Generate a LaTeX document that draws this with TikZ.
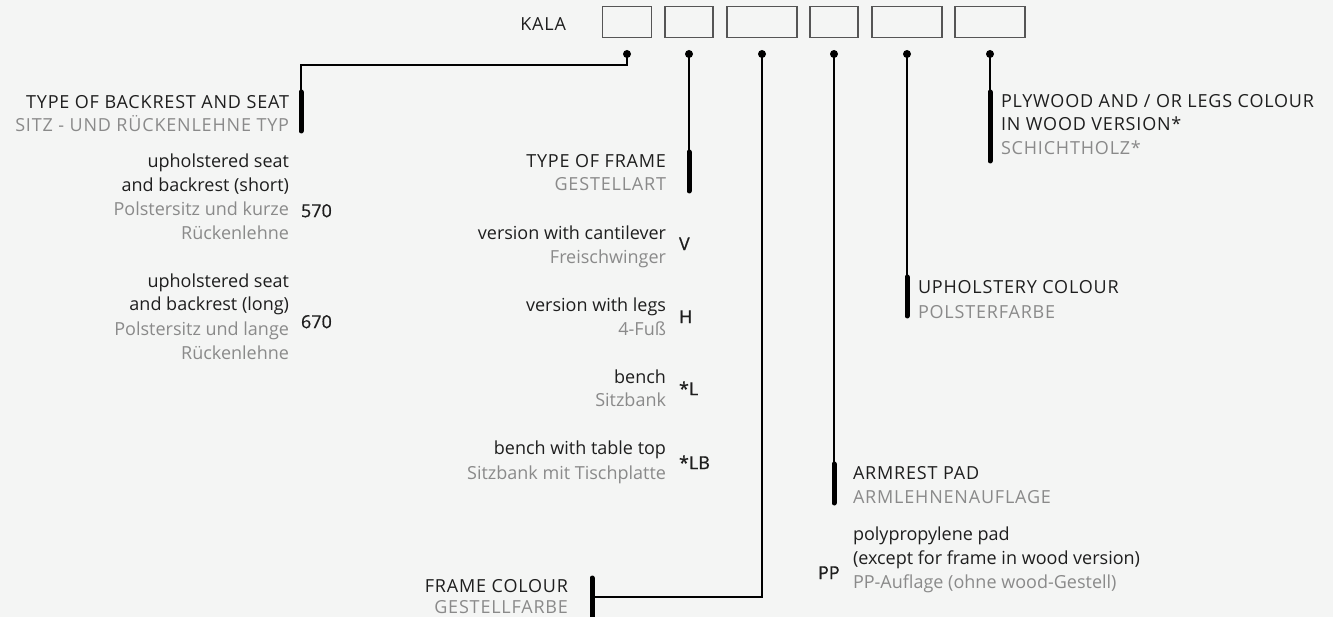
\documentclass[tikz,border=0pt]{standalone}
\usepackage{fontspec}
\setmainfont{Open Sans}
\definecolor{bg}{HTML}{F4F5F4}
\definecolor{txt}{HTML}{1E1E1E}
\definecolor{sub}{HTML}{8A8A8A}
\definecolor{boxline}{HTML}{555555}
\newcommand{\capsfont}{\fontsize{18}{24}\selectfont\addfontfeature{LetterSpace=4.5}}
\newcommand{\lowfont}{\fontsize{18}{24}\selectfont}
\newcommand{\codefont}{\fontsize{18}{24}\selectfont\addfontfeature{FakeBold=0.6}}
\begin{document}
\begin{tikzpicture}[x=1pt,y=-1pt,
  every node/.style={inner sep=0pt, outer sep=0pt},
  codebox/.style={draw=boxline, line width=1.1pt, minimum height=31pt},
  dotnode/.style={circle, fill=black, minimum size=8pt},
  label/.style={yshift=-4.5pt},
  en/.style={label, font=\lowfont, text=txt},
  de/.style={label, font=\lowfont, text=sub},
  enc/.style={label, font=\capsfont, text=txt},
  dec/.style={label, font=\capsfont, text=sub},
  code/.style={label, font=\codefont, text=txt, anchor=mid west},
  conn/.style={line width=1.2pt, black},
  bar/.style={line width=5pt, black, line cap=round}]
\useasboundingbox[fill=bg] (0,0) rectangle (1333,617);
\clip (0,0) rectangle (1333,617);

% header
\node[enc, anchor=mid east] (kala) at (566,23) {KALA};
\node[codebox, minimum width=49pt] (b1) at (627,22) {};
\node[codebox, minimum width=48pt] (b2) at (689,22) {};
\node[codebox, minimum width=70pt] (b3) at (762,22) {};
\node[codebox, minimum width=48pt] (b4) at (834,22) {};
\node[codebox, minimum width=70pt] (b5) at (907,22) {};
\node[codebox, minimum width=70pt] (b6) at (990,22) {};

\node[dotnode] (d1) at (627,54) {};
\node[dotnode] (d2) at (689,54) {};
\node[dotnode] (d3) at (762,54) {};
\node[dotnode] (d4) at (834,54) {};
\node[dotnode] (d5) at (907,54) {};
\node[dotnode] (d6) at (990,54) {};

% bars
\coordinate (t1) at (301,92);  \coordinate (e1) at (301,131);
\coordinate (t2) at (689,152); \coordinate (e2) at (689,191);
\coordinate (t3) at (592,578); \coordinate (e3) at (592,622);
\coordinate (m3) at (592,597);
\coordinate (t4) at (834,464); \coordinate (e4) at (834,503);
\coordinate (t5) at (907,277); \coordinate (e5) at (907,316);
\coordinate (t6) at (990,92);  \coordinate (e6) at (990,161);
\foreach \i in {1,...,6} {\draw[bar] (t\i) -- (e\i);}

% connectors
\draw[conn] (d1.center) |- ++(0,11) -| (t1);
\draw[conn] (d2.center) -- (t2);
\draw[conn] (d3.center) |- (m3);
\draw[conn] (d4.center) -- (t4);
\draw[conn] (d5.center) -- (t5);
\draw[conn] (d6.center) -- (t6);

% backrest
\node[enc, anchor=mid east] (bs1) at (289,101) {TYPE OF BACKREST AND SEAT};
\node[dec, anchor=mid east] (bs2) at (289,124) {SITZ - UND RÜCKENLEHNE TYP};
\node[en, anchor=mid east] (a1) at (289,160) {upholstered seat};
\node[en, anchor=mid east] (a2) at (289,184) {and backrest (short)};
\node[de, anchor=mid east] (a3) at (289,208) {Polstersitz und kurze};
\node[de, anchor=mid east] (a4) at (289,232) {Rückenlehne};
\node[code] (c570) at (301,210) {570};
\node[en, anchor=mid east] (l1) at (289,280) {upholstered seat};
\node[en, anchor=mid east] (l2) at (289,303) {and backrest (long)};
\node[de, anchor=mid east] (l3) at (289,328) {Polstersitz und lange};
\node[de, anchor=mid east] (l4) at (289,352) {Rückenlehne};
\node[code] (c670) at (301,321) {670};

% frame
\node[enc, anchor=mid east] (f1) at (666,160) {TYPE OF FRAME};
\node[dec, anchor=mid east] (f2) at (666,183) {GESTELLART};
\node[en, anchor=mid east] (v1) at (666,232) {version with cantilever};
\node[de, anchor=mid east] (v2) at (666,256) {Freischwinger};
\node[code] (cv) at (679,243) {V};
\node[en, anchor=mid east] (h1) at (666,304) {version with legs};
\node[de, anchor=mid east] (h2) at (666,328) {4-Fuß};
\node[code] (ch) at (679,316) {H};
\node[en, anchor=mid east] (s1) at (666,376) {bench};
\node[de, anchor=mid east] (s2) at (666,399) {Sitzbank};
\node[code] (cl) at (679,388) {*L};
\node[en, anchor=mid east] (t1a) at (666,447) {bench with table top};
\node[de, anchor=mid east] (t2a) at (666,472) {Sitzbank mit Tischplatte};
\node[code] (clb) at (679,462) {*LB};

% frame colour
\node[enc, anchor=mid east] (fc1) at (568,585) {FRAME COLOUR};
\node[dec, anchor=mid east] (fc2) at (568,606.5) {GESTELLFARBE};

% plywood
\node[enc, anchor=mid west] (p1) at (1001,100) {PLYWOOD AND / OR LEGS COLOUR};
\node[enc, anchor=mid west] (p2) at (1001,123) {IN WOOD VERSION*};
\node[dec, anchor=mid west] (p3) at (1001,147) {SCHICHTHOLZ*};

% upholstery
\node[enc, anchor=mid west] (u1) at (918,286) {UPHOLSTERY COLOUR};
\node[dec, anchor=mid west] (u2) at (918,311) {POLSTERFARBE};

% armrest
\node[enc, anchor=mid west] (r1) at (853,472) {ARMREST PAD};
\node[dec, anchor=mid west] (r2) at (853,496) {ARMLEHNENAUFLAGE};
\node[en, anchor=mid west] (pp1) at (853,533) {polypropylene pad};
\node[en, anchor=mid west] (pp2) at (853,557) {(except for frame in wood version)};
\node[de, anchor=mid west] (pp3) at (853,581) {PP-Auflage (ohne wood-Gestell)};
\node[code] (cpp) at (818,572) {PP};
\end{tikzpicture}
\end{document}
